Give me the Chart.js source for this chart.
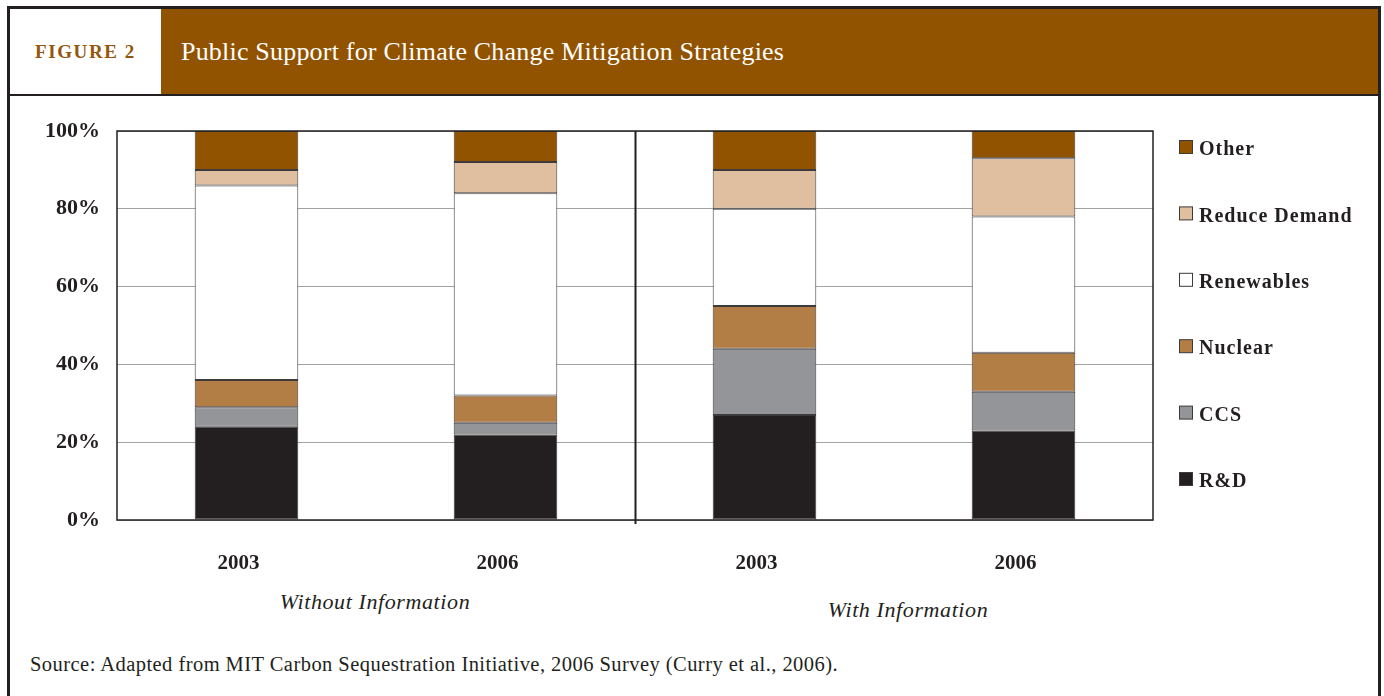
<!DOCTYPE html>
<html>
<head>
<meta charset="utf-8">
<script src="https://cdn.jsdelivr.net/npm/chart.js@4"></script>
<style>
    body { margin: 0; width: 1384px; height: 696px; background: #fff; position: relative; overflow: hidden;
           font-family: 'Liberation Serif', 'DejaVu Serif', serif; color: #231f20; }
    #marco { position: absolute; left: 7px; top: 6px; width: 1368px; height: 700px;
             border: 3px solid #231f20; border-bottom: none; }
    #cabecera { position: absolute; left: 10px; top: 9px; width: 1368px; height: 85px;
                border-bottom: 2px solid #231f20; background: #925300; }
    #figura { position: absolute; left: 0; top: 0; width: 151px; height: 85px; background: #fff;
              color: #93560c; font-weight: bold; font-size: 19px; letter-spacing: 1.6px;
              line-height: 85px; text-align: center; }
    #titulo { position: absolute; left: 171px; top: 0; line-height: 85px; color: #fff;
              font-size: 26px; letter-spacing: 0.2px; }
    .grupo { position: absolute; font-style: italic; font-size: 22px; letter-spacing: 0.6px;
             transform: translateX(-50%); white-space: nowrap; }
    #fuente { position: absolute; left: 30px; top: 653px; font-size: 20.5px; letter-spacing: 0.45px;
              white-space: nowrap; }
    canvas { position: absolute; left: 0; top: 0; }
</style>
</head>
<body>
<div id="marco"></div>
<div id="cabecera">
    <div id="figura">FIGURE 2</div>
    <div id="titulo">Public Support for Climate Change Mitigation Strategies</div>
</div>
<div class="grupo" style="left:375px; top:589px;">Without Information</div>
<div class="grupo" style="left:908px; top:597px;">With Information</div>
<div id="fuente">Source: Adapted from MIT Carbon Sequestration Initiative, 2006 Survey (Curry et al., 2006).</div>
<canvas id="chart-apoyo" width="1384" height="696"></canvas>

<script>
/*
    ========================
      DATOS DE LA GRÁFICA
    ========================
*/
const anios = ['2003', '2006', '2003', '2006'];
const ticksY = [0, 20, 40, 60, 80, 100];

const datosRD = [24, 22, 27, 23];
const datosCCS = [5, 3, 17, 10];
const datosNuclear = [7, 7, 11, 10];
const datosRenovables = [50, 52, 25, 35];
const datosDemanda = [4, 8, 10, 15];
const datosOtros = [10, 8, 10, 7];

const tinta = '#231f20';
const fuenteSerif = "'Liberation Serif', 'DejaVu Serif', serif";

function serie(label, data, color) {
    return {
        label: label,
        data: data,
        backgroundColor: color,
        borderColor: '#3d3a3b',
        borderWidth: 1,
        borderSkipped: false,
        barPercentage: 0.4,
        categoryPercentage: 1,
    };
}

// marco del área de gráfica, divisor central y leyenda a la derecha
const pluginMarco = {
    id: 'marco',
    afterDatasetsDraw(chart) {
        const ctx = chart.ctx;
        const a = chart.chartArea;
        const x = chart.scales.x;
        ctx.save();
        ctx.strokeStyle = tinta;
        ctx.lineWidth = 1.5;
        ctx.strokeRect(a.left, a.top, a.right - a.left, a.bottom - a.top);
        let xDiv = Math.round(x.getPixelForValue(1.5)) + 0.5;
        ctx.lineWidth = 2;
        ctx.beginPath();
        ctx.moveTo(xDiv, a.top);
        ctx.lineTo(xDiv, a.bottom + 4);
        ctx.stroke();

        // leyenda (orden inverso, como las pilas)
        const series = chart.data.datasets.slice().reverse();
        ctx.font = 'bold 20px ' + fuenteSerif;
        ctx.letterSpacing = '1px';
        ctx.textBaseline = 'middle';
        ctx.textAlign = 'left';
        series.forEach((ds, i) => {
            let y = 148 + i * 66.4;
            ctx.fillStyle = ds.backgroundColor;
            ctx.fillRect(1179.5, y - 7.5, 13, 13);
            ctx.strokeStyle = '#3d3a3b';
            ctx.lineWidth = 1;
            ctx.strokeRect(1179.5, y - 7.5, 13, 13);
            ctx.fillStyle = tinta;
            ctx.fillText(ds.label, 1199, y + 2);
        });
        ctx.restore();
    }
};

let ctxApoyo = document.getElementById('chart-apoyo');

let graficaApoyo = new Chart(ctxApoyo, {
    type: 'bar',
    data: {
        labels: anios,
        datasets: [
            serie('R&D', datosRD, '#231f20'),
            serie('CCS', datosCCS, '#939598'),
            serie('Nuclear', datosNuclear, '#b37d46'),
            serie('Renewables', datosRenovables, '#ffffff'),
            serie('Reduce Demand', datosDemanda, '#dfbf9f'),
            serie('Other', datosOtros, '#925300'),
        ]
    },
    options: {
        responsive: false,
        animation: false,
        devicePixelRatio: 1,
        layout: {
            padding: { left: 0, top: 131, right: 231, bottom: 0 }
        },
        scales: {
            x: {
                stacked: true,
                grid: { display: false },
                border: { display: false },
                ticks: {
                    color: tinta,
                    padding: 23,
                    labelOffset: -8,
                    font: { family: fuenteSerif, size: 21, weight: 'bold' }
                },
                afterFit(scale) { scale.height = 176; }
            },
            y: {
                stacked: true,
                min: 0,
                max: 100,
                afterBuildTicks(scale) { scale.ticks = ticksY.map(v => ({ value: v })); },
                grid: { color: '#a3a3a3', lineWidth: 1, drawTicks: false },
                border: { display: false },
                ticks: {
                    color: tinta,
                    padding: 17,
                    font: { family: fuenteSerif, size: 22, weight: 'bold' },
                    callback: v => v + '%'
                },
                afterFit(scale) { scale.width = 117; }
            }
        },
        plugins: {
            legend: { display: false },
            title: { display: false },
            tooltip: { enabled: false }
        }
    },
    plugins: [pluginMarco]
});
</script>
</body>
</html>
